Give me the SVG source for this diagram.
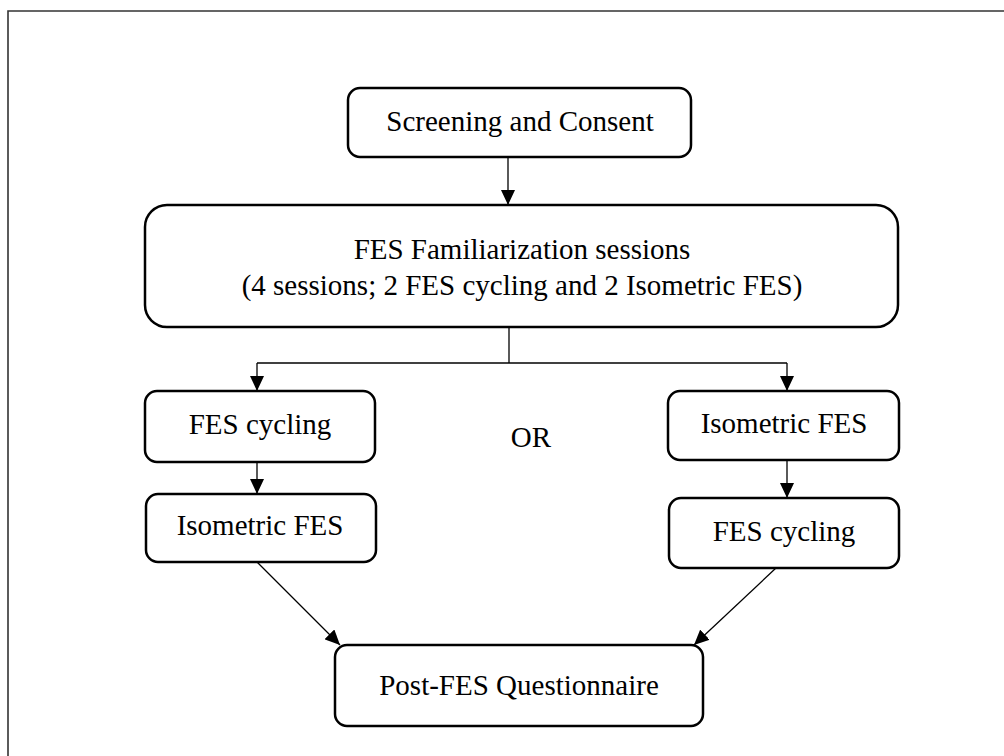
<svg xmlns="http://www.w3.org/2000/svg" width="1004" height="756" viewBox="0 0 1004 756">
  <defs>
    <marker id="arrow" viewBox="0 0 10 10" refX="10" refY="5" markerUnits="userSpaceOnUse" markerWidth="15" markerHeight="14" orient="auto" preserveAspectRatio="none">
      <path d="M0,0 L10,5 L0,10 z" fill="#000"/>
    </marker>
    <style>
      .box { fill: #fff; stroke: #000; stroke-width: 2.5; }
      .lbl { font-family: "Liberation Serif", "Times New Roman", serif; font-size: 29px; fill: #000; text-anchor: middle; }
      .conn { fill: none; stroke: #000; stroke-width: 1.3; }
      .arr { marker-end: url(#arrow); }
    </style>
  </defs>
  <rect width="1004" height="756" fill="#fff"/>
  <path d="M8,756 V11 H1004" fill="none" stroke="#333" stroke-width="1.6"/>

  <g id="connectors">
    <line class="conn arr" x1="508" y1="157" x2="508" y2="205"/>
    <line class="conn" x1="509" y1="327" x2="509" y2="363"/>
    <line class="conn" x1="257" y1="363" x2="787" y2="363"/>
    <line class="conn arr" x1="257" y1="363" x2="257" y2="391"/>
    <line class="conn arr" x1="787" y1="363" x2="787" y2="391"/>
    <line class="conn arr" x1="257" y1="462" x2="257" y2="494"/>
    <line class="conn arr" x1="787" y1="460" x2="787" y2="498"/>
    <line class="conn arr" x1="257" y1="562" x2="340" y2="645"/>
    <line class="conn arr" x1="776" y1="568" x2="694" y2="645"/>
  </g>

  <g id="screening">
    <rect class="box" x="348" y="88" width="343" height="69" rx="12"/>
    <text class="lbl" x="520" y="131">Screening and Consent</text>
  </g>

  <g id="familiarization">
    <rect class="box" x="145" y="205" width="753" height="122" rx="22"/>
    <text class="lbl" x="522" y="259">FES Familiarization sessions</text>
    <text class="lbl" x="522" y="295">(4 sessions; 2 FES cycling and 2 Isometric FES)</text>
  </g>

  <g id="left-fes-cycling">
    <rect class="box" x="145" y="391" width="230" height="71" rx="12"/>
    <text class="lbl" x="260" y="434">FES cycling</text>
  </g>

  <g id="left-isometric">
    <rect class="box" x="146" y="494" width="230" height="68" rx="12"/>
    <text class="lbl" x="260" y="535">Isometric FES</text>
  </g>

  <g id="or-label">
    <text class="lbl" x="531" y="447">OR</text>
  </g>

  <g id="right-isometric">
    <rect class="box" x="668" y="391" width="231" height="69" rx="12"/>
    <text class="lbl" x="784" y="433">Isometric FES</text>
  </g>

  <g id="right-fes-cycling">
    <rect class="box" x="669" y="498" width="230" height="70" rx="12"/>
    <text class="lbl" x="784" y="541">FES cycling</text>
  </g>

  <g id="post-questionnaire">
    <rect class="box" x="335" y="645" width="368" height="81" rx="12"/>
    <text class="lbl" x="519" y="695">Post-FES Questionnaire</text>
  </g>
</svg>
